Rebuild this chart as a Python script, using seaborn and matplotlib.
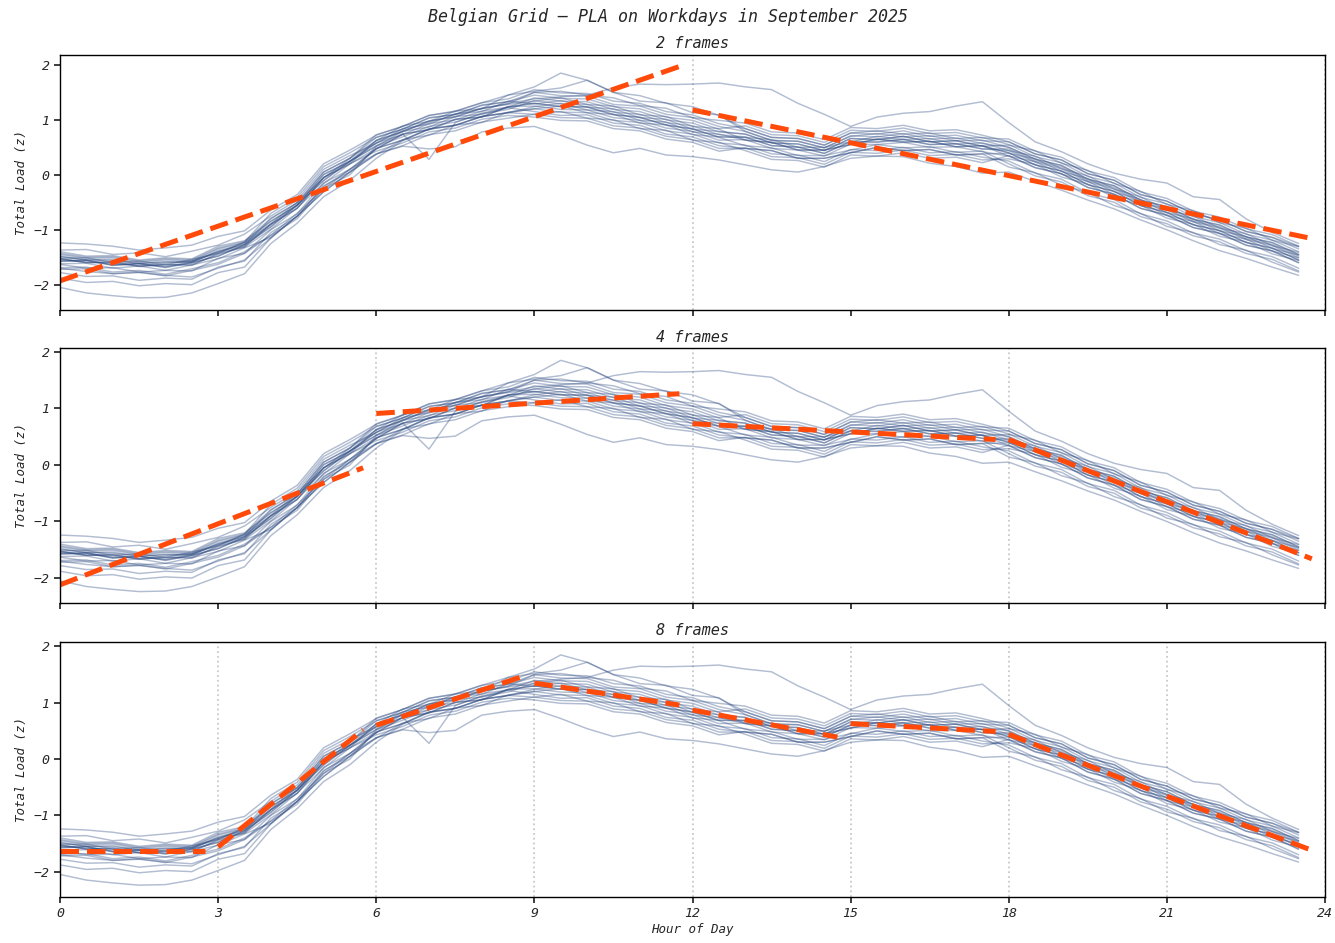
import numpy as np
import pandas as pd
import matplotlib
matplotlib.use("Agg")
import matplotlib.pyplot as plt
import seaborn as sns

# Half-hourly sample times (hours since midnight)
hours = np.arange(0, 24, 0.5)

# Standardised total load, one row per workday of September 2025
day_labels = [
    "09-01", "09-02", "09-03", "09-04", "09-05", "09-08", "09-09", "09-10",
    "09-11", "09-12", "09-15", "09-16", "09-17", "09-18", "09-19", "09-22",
    "09-23", "09-24", "09-25", "09-26", "09-29", "09-30",
]

load_z = [
    [-1.48, -1.55, -1.54, -1.62, -1.58, -1.60, -1.38, -1.27,
     -0.80, -0.51, 0.05, 0.30, 0.68, 0.83, 1.04, 1.10, 1.27, 1.33,
     1.50, 1.44, 1.43, 1.28, 1.25, 1.10, 1.04, 0.88,
     0.79, 0.62, 0.61, 0.49, 0.70, 0.75, 0.69, 0.71, 0.62, 0.63,
     0.50, 0.29, 0.17, -0.08, -0.20, -0.46, -0.58, -0.81, -0.92, -1.13, -1.24, -1.45],
    [-1.63, -1.70, -1.69, -1.77, -1.74, -1.75, -1.52, -1.43,
     -1.10, -0.70, -0.26, 0.10, 0.47, 0.74, 0.82, 1.01, 1.05, 1.24,
     1.25, 1.19, 1.18, 1.04, 0.99, 0.85, 0.79, 0.63,
     0.64, 0.48, 0.45, 0.34, 0.56, 0.55, 0.59, 0.50, 0.51, 0.42,
     0.34, 0.13, 0.02, -0.23, -0.36, -0.61, -0.74, -0.96, -1.07, -1.28, -1.39, -1.60],
    [-1.24, -1.26, -1.30, -1.37, -1.33, -1.28, -1.12, -1.02,
     -0.64, -0.36, 0.20, 0.45, 0.72, 0.88, 1.08, 1.16, 1.31, 1.38,
     1.55, 1.49, 1.48, 1.34, 1.30, 1.15, 1.09, 0.93,
     0.84, 0.68, 0.66, 0.54, 0.76, 0.74, 0.80, 0.70, 0.72, 0.62,
     0.60, 0.38, 0.27, 0.02, -0.10, -0.36, -0.48, -0.71, -0.82, -1.03, -1.14, -1.30],
    [-2.05, -2.15, -2.20, -2.24, -2.23, -2.15, -1.98, -1.80,
     -1.25, -0.88, -0.40, -0.10, 0.30, 0.62, 0.83, 0.90, 1.06, 1.13,
     1.24, 1.30, 1.18, 1.15, 0.99, 0.96, 0.78, 0.74,
     0.63, 0.59, 0.45, 0.45, 0.55, 0.65, 0.60, 0.61, 0.51, 0.53,
     0.40, 0.18, 0.07, -0.18, -0.30, -0.56, -0.69, -0.91, -1.02, -1.23, -1.34, -1.55],
    [-1.88, -1.96, -1.94, -2.02, -1.98, -2.00, -1.78, -1.68,
     -1.15, -0.75, -0.31, 0.05, 0.48, 0.63, 0.84, 0.90, 1.06, 1.13,
     1.20, 1.14, 1.13, 0.99, 0.95, 0.80, 0.74, 0.58,
     0.54, 0.38, 0.36, 0.24, 0.46, 0.44, 0.50, 0.40, 0.42, 0.32,
     0.25, 0.03, -0.08, -0.33, -0.45, -0.71, -0.84, -1.06, -1.17, -1.38, -1.49, -1.70],
    [-1.52, -1.60, -1.58, -1.66, -1.61, -1.57, -1.40, -1.30,
     -0.90, -0.55, -0.05, 0.25, 0.58, 0.80, 0.95, 1.10, 1.20, 1.30,
     1.38, 1.42, 1.45, 1.58, 1.65, 1.64, 1.65, 1.67,
     1.60, 1.55, 1.30, 1.10, 0.88, 1.05, 1.12, 1.15, 1.25, 1.33,
     0.95, 0.60, 0.42, 0.20, 0.03, -0.08, -0.15, -0.40, -0.45, -0.80, -1.05, -1.25],
    [-1.57, -1.56, -1.64, -1.62, -1.68, -1.60, -1.48, -1.28,
     -0.95, -0.55, -0.10, 0.24, 0.53, 0.74, 0.28, 0.95, 1.12, 1.23,
     1.30, 1.24, 1.24, 1.10, 1.04, 0.91, 0.83, 0.69,
     0.68, 0.53, 0.50, 0.39, 0.60, 0.59, 0.64, 0.55, 0.56, 0.47,
     0.44, 0.23, 0.11, -0.13, -0.26, -0.51, -0.64, -0.86, -0.97, -1.18, -1.29, -1.51],
    [-1.70, -1.76, -1.80, -1.78, -1.83, -1.86, -1.70, -1.55,
     -1.15, -0.75, -0.22, 0.10, 0.38, 0.52, 0.47, 0.51, 0.78, 0.85,
     0.88, 0.72, 0.54, 0.40, 0.48, 0.36, 0.33, 0.27,
     0.18, 0.09, 0.05, 0.15, 0.30, 0.34, 0.33, 0.21, 0.15, 0.03,
     0.05, -0.12, -0.28, -0.46, -0.62, -0.82, -1.00, -1.20, -1.38, -1.52, -1.68, -1.83],
    [-1.43, -1.50, -1.49, -1.57, -1.53, -1.55, -1.33, -1.22,
     -0.79, -0.51, 0.05, 0.30, 0.73, 0.88, 1.08, 1.15, 1.31, 1.45,
     1.60, 1.85, 1.72, 1.50, 1.44, 1.30, 1.24, 1.08,
     0.84, 0.68, 0.66, 0.54, 0.76, 0.80, 0.74, 0.76, 0.66, 0.68,
     0.55, 0.33, 0.22, -0.03, -0.15, -0.41, -0.53, -0.76, -0.87, -1.08, -1.19, -1.40],
    [-1.69, -1.68, -1.77, -1.74, -1.81, -1.71, -1.60, -1.40,
     -1.10, -0.80, -0.25, 0.00, 0.52, 0.69, 0.88, 0.96, 1.11, 1.19,
     1.35, 1.29, 1.28, 1.14, 1.10, 0.95, 0.89, 0.73,
     0.69, 0.53, 0.51, 0.39, 0.61, 0.60, 0.65, 0.55, 0.57, 0.47,
     0.47, 0.25, 0.14, -0.11, -0.23, -0.49, -0.62, -0.84, -0.95, -1.16, -1.27, -1.48],
    [-1.52, -1.51, -1.60, -1.57, -1.64, -1.54, -1.43, -1.23,
     -0.85, -0.55, 0.00, 0.25, 0.62, 0.79, 0.98, 1.06, 1.21, 1.29,
     1.50, 1.52, 1.45, 1.40, 1.26, 1.21, 1.04, 0.99,
     0.94, 0.78, 0.76, 0.64, 0.86, 0.84, 0.90, 0.80, 0.82, 0.72,
     0.60, 0.38, 0.27, 0.02, -0.10, -0.36, -0.48, -0.71, -0.82, -1.03, -1.14, -1.35],
    [-1.58, -1.56, -1.65, -1.61, -1.69, -1.60, -1.48, -1.27,
     -0.94, -0.55, -0.11, 0.25, 0.52, 0.79, 0.87, 1.06, 1.10, 1.22,
     1.15, 1.08, 1.09, 0.94, 0.90, 0.74, 0.69, 0.53,
     0.48, 0.44, 0.30, 0.30, 0.40, 0.50, 0.44, 0.46, 0.36, 0.38,
     0.39, 0.29, 0.06, -0.07, -0.31, -0.45, -0.69, -0.80, -1.02, -1.12, -1.34, -1.46],
    [-1.40, -1.48, -1.47, -1.55, -1.51, -1.53, -1.30, -1.20,
     -0.84, -0.56, 0.01, 0.24, 0.58, 0.73, 0.93, 1.00, 1.16, 1.23,
     1.40, 1.34, 1.33, 1.19, 1.15, 1.00, 0.94, 0.78,
     0.74, 0.58, 0.56, 0.44, 0.66, 0.64, 0.70, 0.60, 0.62, 0.52,
     0.54, 0.44, 0.21, 0.08, -0.16, -0.30, -0.54, -0.65, -0.87, -0.97, -1.19, -1.31],
    [-1.72, -1.71, -1.80, -1.77, -1.84, -1.74, -1.63, -1.43,
     -1.00, -0.71, -0.15, 0.10, 0.47, 0.74, 0.82, 1.01, 1.05, 1.24,
     1.30, 1.24, 1.23, 1.09, 1.05, 0.90, 0.84, 0.68,
     0.53, 0.49, 0.35, 0.35, 0.45, 0.55, 0.49, 0.51, 0.41, 0.43,
     0.20, -0.02, -0.13, -0.38, -0.50, -0.76, -0.89, -1.11, -1.22, -1.43, -1.54, -1.75],
    [-1.53, -1.60, -1.59, -1.67, -1.63, -1.65, -1.43, -1.32,
     -0.99, -0.60, -0.16, 0.20, 0.43, 0.58, 0.78, 0.85, 1.01, 1.08,
     1.05, 0.99, 0.98, 0.84, 0.80, 0.65, 0.59, 0.43,
     0.49, 0.33, 0.31, 0.19, 0.41, 0.39, 0.45, 0.35, 0.37, 0.27,
     0.29, 0.19, -0.04, -0.17, -0.41, -0.55, -0.79, -0.90, -1.12, -1.22, -1.44, -1.56],
    [-1.56, -1.55, -1.64, -1.62, -1.67, -1.58, -1.42, -1.22,
     -0.70, -0.41, 0.15, 0.40, 0.68, 0.83, 1.03, 1.10, 1.26, 1.33,
     1.45, 1.39, 1.38, 1.24, 1.20, 1.05, 0.99, 0.83,
     0.63, 0.59, 0.45, 0.45, 0.55, 0.65, 0.59, 0.61, 0.51, 0.53,
     0.34, 0.24, 0.01, -0.12, -0.36, -0.50, -0.74, -0.85, -1.07, -1.17, -1.39, -1.51],
    [-1.62, -1.61, -1.70, -1.66, -1.74, -1.64, -1.53, -1.33,
     -1.14, -0.75, -0.31, 0.05, 0.37, 0.64, 0.72, 0.91, 0.95, 1.14,
     1.20, 1.25, 1.13, 1.10, 0.94, 0.91, 0.73, 0.69,
     0.68, 0.64, 0.50, 0.50, 0.60, 0.70, 0.64, 0.66, 0.56, 0.58,
     0.44, 0.34, 0.11, -0.02, -0.26, -0.40, -0.64, -0.75, -0.97, -1.07, -1.29, -1.41],
    [-1.54, -1.59, -1.61, -1.66, -1.64, -1.63, -1.45, -1.31,
     -0.90, -0.61, -0.05, 0.20, 0.48, 0.63, 0.83, 0.90, 1.06, 1.13,
     1.10, 1.15, 1.03, 1.00, 0.84, 0.81, 0.63, 0.59,
     0.44, 0.28, 0.26, 0.14, 0.36, 0.34, 0.40, 0.30, 0.32, 0.22,
     0.35, 0.13, 0.02, -0.23, -0.35, -0.61, -0.73, -0.96, -1.06, -1.28, -1.38, -1.60],
    [-1.49, -1.55, -1.56, -1.61, -1.59, -1.58, -1.40, -1.26,
     -0.89, -0.50, -0.06, 0.30, 0.62, 0.89, 0.97, 1.16, 1.20, 1.45,
     1.52, 1.58, 1.72, 1.50, 1.34, 1.31, 1.13, 1.09,
     0.79, 0.63, 0.61, 0.49, 0.71, 0.69, 0.75, 0.65, 0.67, 0.57,
     0.50, 0.28, 0.17, -0.08, -0.20, -0.46, -0.58, -0.81, -0.91, -1.13, -1.23, -1.45],
    [-1.37, -1.36, -1.45, -1.42, -1.49, -1.39, -1.28, -1.08,
     -0.75, -0.46, 0.10, 0.35, 0.57, 0.84, 0.92, 1.11, 1.15, 1.34,
     1.29, 1.35, 1.23, 1.20, 1.04, 1.01, 0.83, 0.79,
     0.74, 0.58, 0.56, 0.44, 0.66, 0.64, 0.70, 0.60, 0.62, 0.52,
     0.40, 0.18, 0.07, -0.18, -0.30, -0.56, -0.68, -0.91, -1.01, -1.23, -1.33, -1.55],
    [-1.78, -1.85, -1.84, -1.92, -1.88, -1.90, -1.68, -1.57,
     -1.05, -0.76, -0.20, 0.05, 0.38, 0.53, 0.73, 0.80, 0.96, 1.03,
     1.10, 1.04, 1.03, 0.89, 0.85, 0.70, 0.64, 0.48,
     0.48, 0.44, 0.30, 0.30, 0.40, 0.50, 0.44, 0.46, 0.36, 0.38,
     0.14, 0.04, -0.19, -0.32, -0.56, -0.70, -0.94, -1.05, -1.27, -1.37, -1.59, -1.77],
    [-1.45, -1.52, -1.51, -1.59, -1.55, -1.57, -1.35, -1.24,
     -0.90, -0.61, -0.05, 0.20, 0.63, 0.78, 0.98, 1.05, 1.21, 1.28,
     1.34, 1.40, 1.28, 1.25, 1.09, 1.06, 0.88, 0.84,
     0.89, 0.73, 0.71, 0.59, 0.81, 0.79, 0.85, 0.75, 0.77, 0.67,
     0.65, 0.43, 0.32, 0.07, -0.05, -0.31, -0.43, -0.66, -0.77, -0.98, -1.09, -1.30],
]

# Piecewise linear approximation: value at the first and last step of each frame
frame_counts = [2, 4, 8]
pla_start = {
    2: [-1.93, 1.18],
    4: [-2.12, 0.91, 0.73, 0.45],
    8: [-1.63, -1.56, 0.60, 1.35, 0.87, 0.63, 0.44, -0.66],
}
pla_end = {
    2: [1.97, -1.16],
    4: [-0.05, 1.26, 0.45, -1.66],
    8: [-1.63, 0.52, 1.46, 0.96, 0.39, 0.49, -0.57, -1.62],
}
step_h = 0.25

# Long-form table of the daily profiles
profiles = pd.DataFrame(
    [(d, h, v) for d, row in zip(day_labels, load_z) for h, v in zip(hours, row)],
    columns=["day", "hour", "load"],
)

sns.set_theme(style="ticks")
plt.rcParams["font.family"] = ["DejaVu Sans Mono"]
plt.rcParams["font.style"] = "oblique"

fig, axes = plt.subplots(3, 1, figsize=(13.35, 9.43), dpi=100, sharex=True)
fig.subplots_adjust(left=0.045, right=0.9925, top=0.9417, bottom=0.0488, hspace=0.151)

ylims = {2: (-2.46, 2.18), 4: (-2.45, 2.06), 8: (-2.45, 2.08)}

for ax, n in zip(axes, frame_counts):
    width = 24 / n
    for k in range(n + 1):
        ax.axvline(k * width, color="#c9c9c9", linestyle=":", linewidth=1.3, zorder=0)

    sns.lineplot(
        data=profiles, x="hour", y="load", units="day", estimator=None,
        color="#2a4880", alpha=0.36, linewidth=1.05, ax=ax, legend=False,
    )

    seg_rows = []
    for k, (y0, y1) in enumerate(zip(pla_start[n], pla_end[n])):
        seg_rows.append((k, k * width, y0))
        seg_rows.append((k, (k + 1) * width - step_h, y1))
    segments = pd.DataFrame(seg_rows, columns=["segment", "hour", "load"])
    sns.lineplot(
        data=segments, x="hour", y="load", units="segment", estimator=None,
        color="#ff4a0a", linewidth=3.6, linestyle="--", ax=ax, legend=False,
    )

    ax.set_title(f"{n} frames", fontsize=11, pad=5)
    ax.set_ylabel("Total Load (z)", fontsize=9)
    ax.set_xlabel("")
    ax.set_xlim(0, 24)
    ax.set_ylim(*ylims[n])
    ax.set_yticks([-2, -1, 0, 1, 2])
    ax.set_xticks(range(0, 25, 3))
    ax.tick_params(labelsize=9.5, length=4)
    for s in ax.spines.values():
        s.set_visible(True)
        s.set_color("black")
        s.set_linewidth(1.0)

axes[-1].set_xlabel("Hour of Day", fontsize=9, labelpad=2)
fig.suptitle("Belgian Grid — PLA on Workdays in September 2025", fontsize=12, y=0.992)

fig.savefig("out.png", dpi=100)
